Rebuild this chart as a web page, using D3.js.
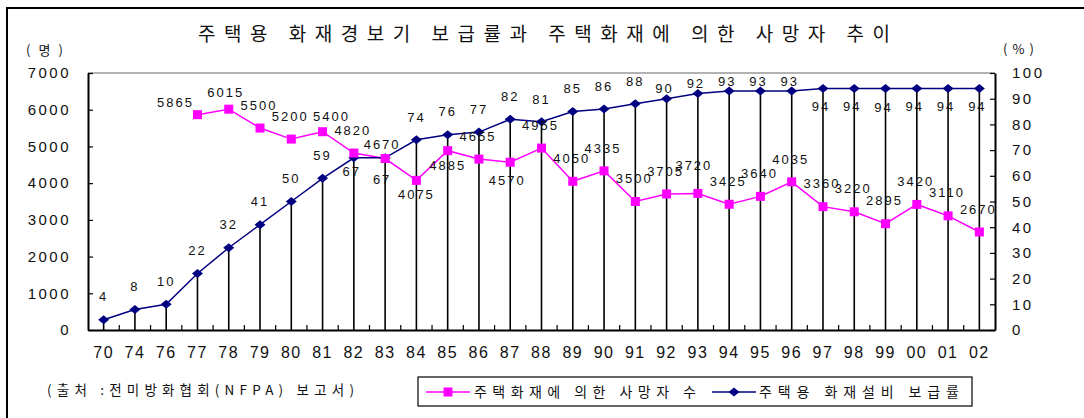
<!DOCTYPE html>
<html>
<head>
<meta charset="utf-8">
<script src="https://cdn.jsdelivr.net/npm/d3@7"></script>
<style>
  body { margin: 0; background: #fff; }
  text { font-family: "Liberation Sans", Arial, "Noto Sans CJK KR", sans-serif; fill: #111; }
  .kr { font-family: "Noto Sans CJK KR", "Liberation Sans", sans-serif; }
</style>
</head>
<body>
<svg id="chart" width="1084" height="418"></svg>
<script>
// data
const years = ['70','74','76','77','78','79','80','81','82','83','84','85','86','87','88','89',
  '90','91','92','93','94','95','96','97','98','99','00','01','02'];
// 주택화재에 의한 사망자 수 (명) - no values before 77
const deaths = [null,null,null,5865,6015,5500,5200,5400,4820,4670,4075,4885,4655,4570,4955,4050,
  4335,3500,3705,3720,3425,3640,4035,3360,3220,2895,3420,3110,2670];
// 주택용 화재설비 보급률 (%)
const rates = [4,8,10,22,32,41,50,59,67,67,74,76,77,82,81,85,86,88,90,92,93,93,93,94,94,94,94,94,94];
const leftTicks = [0,1000,2000,3000,4000,5000,6000,7000];
const rightTicks = [0,10,20,30,40,50,60,70,80,90,100];

const titleText = '주택용 화재경보기 보급률과 주택화재에 의한 사망자 추이';
const seriesNames = ['주택화재에 의한 사망자 수','주택용 화재설비 보급률'];
const sourceText = '(출처 :전미방화협회(NFPA) 보고서)';

// label nudges (dx, dy from marker), the sheet had them moved by hand
const deathNudge = {'77':[-22,-12],'78':[-3,-17],'81':[9,-15],'83':[-3,-14],
  '84':[0,14],'85':[0,15],'87':[-3,18],'93':[-4,-28]};
const rateNudge = {'82':[-2,14],'83':[-3,22],'92':[-2,-10],'93':[-2,-10],'94':[-2,-10],
  '95':[-2,-10],'96':[-2,-10],'97':[-2,18],'98':[-2,18],'99':[-2,19],'00':[-2,18],'01':[-2,18],'02':[-2,18]};

const svg = d3.select('#chart');
const plot = {left: 88, right: 995, top: 73, bottom: 330};
const pink = '#ff00ff', navy = '#000080';

const x = d3.scaleBand().domain(years).range([plot.left, plot.right]);
const cx = d => x(d) + x.bandwidth() / 2;
const yL = d3.scaleLinear().domain([0, 7000]).range([plot.bottom, plot.top]);
const yR = d3.scaleLinear().domain([0, 100]).range([plot.bottom, plot.top]);

// outer frame
svg.append('path')
  .attr('d', 'M7,420V8H1086')
  .attr('fill', 'none').attr('stroke', '#000').attr('stroke-width', 2);

// spaced-out korean text, stretched to the width it has in the original
function spaced(x0, y0, str, size, len) {
  return svg.append('text').attr('class', 'kr')
    .attr('x', x0).attr('y', y0)
    .attr('textLength', len).attr('lengthAdjust', 'spacing')
    .style('font-size', size + 'px')
    .text(str);
}

spaced(198, 41, titleText, 19, 692);
spaced(26, 55, '(명)', 13, 37);
spaced(1003, 54, '(%)', 13, 31);

// plot top border
svg.append('line')
  .attr('x1', plot.left).attr('x2', plot.right)
  .attr('y1', plot.top).attr('y2', plot.top)
  .attr('stroke', '#999').attr('stroke-width', 1.5);

// axes
const axisLeft = d3.axisLeft(yL).tickValues(leftTicks).tickFormat(d3.format('d'))
  .tickSizeInner(-5).tickSizeOuter(0).tickPadding(17);
const axisRight = d3.axisRight(yR).tickValues(rightTicks).tickFormat(d3.format('d'))
  .tickSizeInner(-5).tickSizeOuter(0).tickPadding(17);
const axisBottom = d3.axisBottom(x).tickSize(0).tickPadding(17);

function styleAxis(g, ls) {
  g.select('.domain').attr('stroke', '#000').attr('stroke-width', 2);
  g.selectAll('.tick line').attr('stroke', '#000').attr('stroke-width', 1.2);
  g.selectAll('.tick text')
    .style('font-family', '"Liberation Sans", Arial, sans-serif')
    .style('font-size', '15px').style('letter-spacing', ls).attr('fill', '#111');
}

svg.append('g').attr('transform', `translate(${plot.left},0)`).call(axisLeft).call(g => styleAxis(g, '2.5px'));
svg.append('g').attr('transform', `translate(${plot.right},0)`).call(axisRight).call(g => styleAxis(g, '2.5px'));
const gx = svg.append('g').attr('transform', `translate(0,${plot.bottom})`).call(axisBottom);
styleAxis(gx, '2.5px');
gx.selectAll('.tick text').style('font-size', '16px').style('letter-spacing', '1.5px');

// small ticks between categories, pointing up
svg.append('g').selectAll('line')
  .data(years.slice(1))
  .join('line')
  .attr('x1', d => x(d)).attr('x2', d => x(d))
  .attr('y1', plot.bottom).attr('y2', plot.bottom - 5)
  .attr('stroke', '#000').attr('stroke-width', 1.2);

// drop lines from the rate markers
svg.append('g').selectAll('line')
  .data(years)
  .join('line')
  .attr('x1', d => cx(d)).attr('x2', d => cx(d))
  .attr('y1', (d, i) => yR(rates[i])).attr('y2', plot.bottom)
  .attr('stroke', '#000').attr('stroke-width', 1.6);

const deathPts = years.map((y, i) => ({year: y, v: deaths[i]})).filter(d => d.v != null);
const ratePts = years.map((y, i) => ({year: y, v: rates[i]}));

svg.append('path')
  .datum(deathPts)
  .attr('fill', 'none').attr('stroke', pink).attr('stroke-width', 1.5)
  .attr('d', d3.line().x(d => cx(d.year)).y(d => yL(d.v)));

svg.append('path')
  .datum(ratePts)
  .attr('fill', 'none').attr('stroke', navy).attr('stroke-width', 1.5)
  .attr('d', d3.line().x(d => cx(d.year)).y(d => yR(d.v)));

const diamond = 'M-5.5,0L0,-4.5L5.5,0L0,4.5Z';

svg.append('g').selectAll('path')
  .data(ratePts)
  .join('path')
  .attr('d', diamond)
  .attr('transform', d => `translate(${cx(d.year)},${yR(d.v)})`)
  .attr('fill', navy);

svg.append('g').selectAll('rect')
  .data(deathPts)
  .join('rect')
  .attr('x', d => cx(d.year) - 4.5).attr('y', d => yL(d.v) - 4.5)
  .attr('width', 9).attr('height', 9)
  .attr('fill', pink);

// value labels
function labels(pts, scale, nudge, def) {
  svg.append('g').selectAll('text')
    .data(pts)
    .join('text')
    .attr('x', d => cx(d.year) + (nudge[d.year] || def)[0])
    .attr('y', d => scale(d.v) + (nudge[d.year] || def)[1])
    .attr('dy', '0.36em')
    .attr('text-anchor', 'middle')
    .style('font-size', '13px').style('letter-spacing', '2px')
    .text(d => d.v);
}
labels(ratePts, yR, rateNudge, [0, -23]);
labels(deathPts, yL, deathNudge, [-1, -23]);

// source note
spaced(47, 395, sourceText, 13.5, 307);

// legend
const lg = svg.append('g');
lg.append('rect')
  .attr('x', 418).attr('y', 377).attr('width', 554).attr('height', 29)
  .attr('fill', '#fff').attr('stroke', '#000').attr('stroke-width', 1.2);

const legendItems = [
  {name: seriesNames[0], color: pink, x0: 426, tx: 474, len: 222, shape: 'square'},
  {name: seriesNames[1], color: navy, x0: 712, tx: 759, len: 200, shape: 'diamond'}
];
legendItems.forEach(it => {
  lg.append('line')
    .attr('x1', it.x0).attr('x2', it.x0 + 44)
    .attr('y1', 392).attr('y2', 392)
    .attr('stroke', it.color).attr('stroke-width', 1.5);
  if (it.shape === 'square') {
    lg.append('rect').attr('x', it.x0 + 17.5).attr('y', 387.5)
      .attr('width', 9).attr('height', 9).attr('fill', it.color);
  } else {
    lg.append('path').attr('d', diamond)
      .attr('transform', `translate(${it.x0 + 22},392)`).attr('fill', it.color);
  }
  lg.append('text').attr('class', 'kr')
    .attr('x', it.tx).attr('y', 397)
    .attr('textLength', it.len).attr('lengthAdjust', 'spacing')
    .style('font-size', '14px')
    .text(it.name);
});
</script>
</body>
</html>
